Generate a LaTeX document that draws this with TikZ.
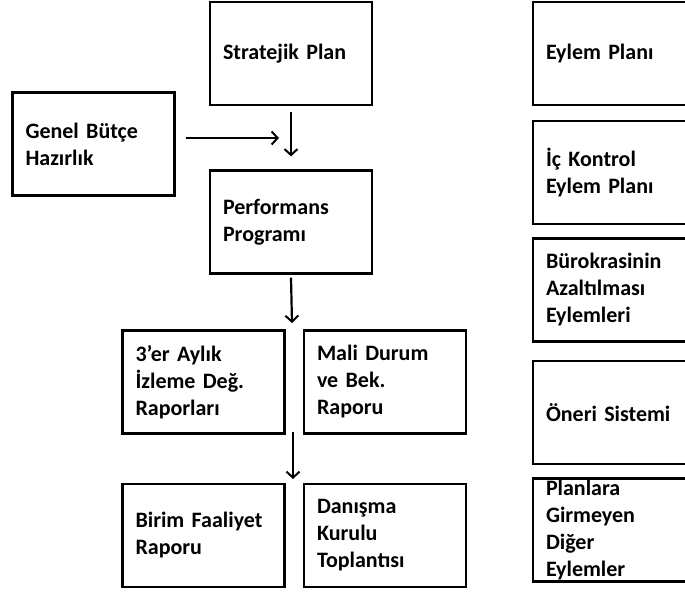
\documentclass[tikz,border=0pt]{standalone}
\usepackage{fontspec}
\setmainfont{Carlito}[BoldFont={Carlito Bold}]
\usetikzlibrary{arrows.meta}
\begin{document}
\begin{tikzpicture}[x=1pt,y=-1pt,
  card/.style={draw=black, line width=2.2pt, minimum width=162pt, minimum height=103pt,
    text width=136pt, inner xsep=13pt, inner ysep=0pt, align=left,
    font=\bfseries\fontsize{22}{27}\selectfont},
  arr/.style={line width=2.2pt, -{Straight Barb[length=6pt,width=13pt,line width=2pt]}}]
\useasboundingbox (0,0) rectangle (685,592);
\clip (0,0) rectangle (685,592);

% main flow
\node[card] (strat) at (291,53.5) {Stratejik Plan};
\node[card, minimum width=161pt] (genel) at (93.5,144) {Genel Bütçe\\Hazırlık};
\node[card] (perf) at (291,222) {Performans\\Programı};
\node[card, minimum width=161pt] (aylik) at (203.5,382) {3’er Aylık\\İzleme Değ.\\Raporları};
\node[card] (mali) at (385,382) {Mali Durum\\ve Bek.\\Raporu};
\node[card, minimum width=161pt] (birim) at (203.5,535.5) {Birim Faaliyet\\Raporu};
\node[card] (danisma) at (385,535.5) {Danışma\\Kurulu\\Toplantısı};

% side column
\node[card] (eylem) at (614,53.5) {Eylem Planı};
\node[card] (ickontrol) at (614,172.5) {İç Kontrol\\Eylem Planı};
\node[card] (buro) at (614,290) {Bürokrasinin\\Azaltılması\\Eylemleri};
\node[card] (oneri) at (614,412.5) {Öneri Sistemi};
\node[card] (diger) at (614,530) {Planlara\\Girmeyen\\Diğer\\Eylemler};

% connectors
\coordinate (budgetin) at (279,138);
\coordinate (row3in) at (292,323);
\coordinate (row3out) at (293,432);
\coordinate (row4in) at (293,479);

\draw[arr] ([xshift=10pt]genel.east |- budgetin) -- (budgetin);
\draw[arr] ([yshift=-6pt]strat.south) -- ([yshift=13pt]perf.north);
\draw[arr] ([yshift=-3pt]perf.south) -- (row3in);
\draw[arr] (row3out) -- (row4in);
\end{tikzpicture}
\end{document}
